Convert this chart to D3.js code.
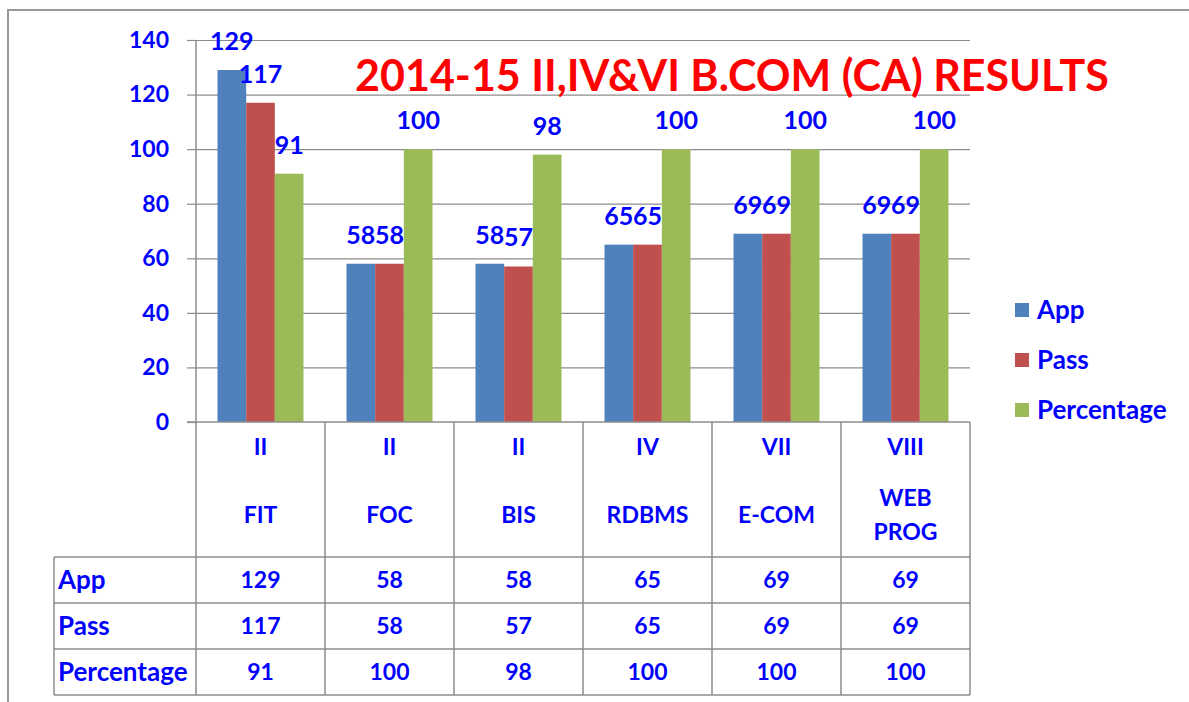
<!DOCTYPE html>
<html>
<head>
<meta charset="utf-8">
<script src="https://cdn.jsdelivr.net/npm/d3@7"></script>
<style>
  body { margin: 0; background: #fff; }
  text { font-family: Lato, "Open Sans", sans-serif; font-weight: bold; }
</style>
</head>
<body>
<div id="chart"></div>
<script>
var semesters = ["II", "II", "II", "IV", "VII", "VIII"];
var subjects = [["FIT"], ["FOC"], ["BIS"], ["RDBMS"], ["E-COM"], ["WEB", "PROG"]];
var seriesNames = ["App", "Pass", "Percentage"];
var appValues = [129, 58, 58, 65, 69, 69];
var passValues = [117, 58, 57, 65, 69, 69];
var percentValues = [91, 100, 98, 100, 100, 100];
var yTicks = [0, 20, 40, 60, 80, 100, 120, 140];
var chartTitle = "2014-15 II,IV&VI B.COM (CA) RESULTS";

function drawChart() {
    var seriesValues = [appValues, passValues, percentValues];
    var colors = ["#4F81BD", "#C0504D", "#9BBB59"];
    var textBlue = "#0000ff";
    var lineGray = "#8c8c8c";

    var width = 1189, height = 702;
    var plotLeft = 196, plotRight = 970, plotTop = 40, plotBottom = 422;
    var tableLeft = 54;
    var rowLines = [557, 603, 649, 695];

    var svg = d3.select("#chart").append("svg")
        .attr("width", width)
        .attr("height", height);

    svg.append("rect").attr("width", width).attr("height", height).attr("fill", "#fff");

    // outer frame
    svg.append("path")
        .attr("d", "M8," + height + "V10H" + width)
        .attr("fill", "none")
        .attr("stroke", "#999")
        .attr("stroke-width", 2);

    var cats = d3.range(semesters.length);
    var x0 = d3.scaleBand().domain(cats).range([plotLeft, plotRight]);
    var barW = x0.bandwidth() / 4.5;
    var x1 = d3.scaleBand().domain(d3.range(3)).range([barW * 0.75, barW * 3.75]);
    var y = d3.scaleLinear().domain([0, 140]).range([plotBottom, plotTop]);

    // gridlines
    svg.append("g")
        .attr("transform", "translate(" + plotLeft + ",0)")
        .call(d3.axisLeft(y).tickValues(yTicks.slice(1)).tickSize(-(plotRight - plotLeft)).tickFormat(""))
        .call(function(g) {
            g.select(".domain").remove();
            g.selectAll("line").attr("stroke", lineGray).attr("stroke-width", 1.2);
        });

    // y axis
    svg.append("g")
        .attr("transform", "translate(" + plotLeft + ",0)")
        .call(d3.axisLeft(y).tickValues(yTicks).tickSize(9).tickPadding(18).tickSizeOuter(0))
        .call(function(g) {
            g.select(".domain").remove();
            g.selectAll("line").attr("stroke", lineGray).attr("stroke-width", 1.2);
            g.selectAll("text")
                .attr("fill", textBlue)
                .style("font-size", "23px");
        });

    // bars
    var groups = svg.append("g").selectAll("g")
        .data(cats)
        .enter().append("g")
        .attr("transform", function(i) { return "translate(" + x0(i) + ",0)"; });

    groups.selectAll("rect")
        .data(function(i) { return seriesValues.map(function(s, k) { return {k: k, v: s[i]}; }); })
        .enter().append("rect")
        .attr("x", function(d) { return x1(d.k); })
        .attr("y", function(d) { return y(d.v); })
        .attr("width", x1.bandwidth())
        .attr("height", function(d) { return y(0) - y(d.v); })
        .attr("fill", function(d) { return colors[d.k]; });

    groups.selectAll("text")
        .data(function(i) { return seriesValues.map(function(s, k) { return {k: k, v: s[i]}; }); })
        .enter().append("text")
        .attr("x", function(d) { return x1(d.k) + x1.bandwidth() / 2; })
        .attr("y", function(d) { return y(d.v) - 20; })
        .attr("text-anchor", "middle")
        .attr("fill", textBlue)
        .style("font-size", "25px")
        .text(function(d) { return d.v; });

    // title
    svg.append("text")
        .attr("x", 732)
        .attr("y", 91)
        .attr("text-anchor", "middle")
        .attr("fill", "#ff0000")
        .style("font-size", "43px")
        .text(chartTitle);

    // legend
    var legend = svg.append("g").selectAll("g")
        .data(seriesNames)
        .enter().append("g")
        .attr("transform", function(d, i) { return "translate(1015," + (310 + i * 50) + ")"; });
    legend.append("rect")
        .attr("y", -7).attr("width", 14).attr("height", 14)
        .attr("fill", function(d, i) { return colors[i]; });
    legend.append("text")
        .attr("x", 22).attr("dy", "0.36em")
        .attr("fill", textBlue)
        .style("font-size", "26px")
        .text(function(d) { return d; });

    // data table
    var table = svg.append("g");
    function hline(yy, xa, xb) {
        table.append("line").attr("x1", xa).attr("x2", xb).attr("y1", yy).attr("y2", yy)
            .attr("stroke", lineGray).attr("stroke-width", 1.5);
    }
    function vline(xx, ya, yb) {
        table.append("line").attr("x1", xx).attr("x2", xx).attr("y1", ya).attr("y2", yb)
            .attr("stroke", lineGray).attr("stroke-width", 1.5);
    }
    hline(plotBottom, plotLeft - 9, plotRight);
    rowLines.forEach(function(r) { hline(r, tableLeft, plotRight); });
    vline(tableLeft, rowLines[0], rowLines[3]);
    vline(plotLeft, plotTop, rowLines[3]);
    cats.forEach(function(i) { vline(x0(i) + x0.bandwidth(), plotBottom, rowLines[3]); });

    // header cells
    cats.forEach(function(i) {
        var cx = x0(i) + x0.bandwidth() / 2;
        table.append("text")
            .attr("x", cx).attr("y", 447).attr("dy", "0.36em")
            .attr("text-anchor", "middle").attr("fill", textBlue)
            .style("font-size", "23px")
            .text(semesters[i]);
        var lines = subjects[i];
        var y0 = 515 - (lines.length - 1) * 17;
        lines.forEach(function(t, j) {
            table.append("text")
                .attr("x", cx).attr("y", y0 + j * 34).attr("dy", "0.36em")
                .attr("text-anchor", "middle").attr("fill", textBlue)
                .style("font-size", "23px")
                .text(t);
        });
    });

    // value rows
    seriesNames.forEach(function(name, k) {
        var cy = (rowLines[k] + rowLines[k + 1]) / 2;
        table.append("text")
            .attr("x", tableLeft + 4).attr("y", cy).attr("dy", "0.36em")
            .attr("fill", textBlue)
            .style("font-size", "26px")
            .text(name);
        cats.forEach(function(i) {
            table.append("text")
                .attr("x", x0(i) + x0.bandwidth() / 2).attr("y", cy).attr("dy", "0.36em")
                .attr("text-anchor", "middle").attr("fill", textBlue)
                .style("font-size", "23px")
                .text(seriesValues[k][i]);
        });
    });
}

drawChart();
</script>
</body>
</html>
